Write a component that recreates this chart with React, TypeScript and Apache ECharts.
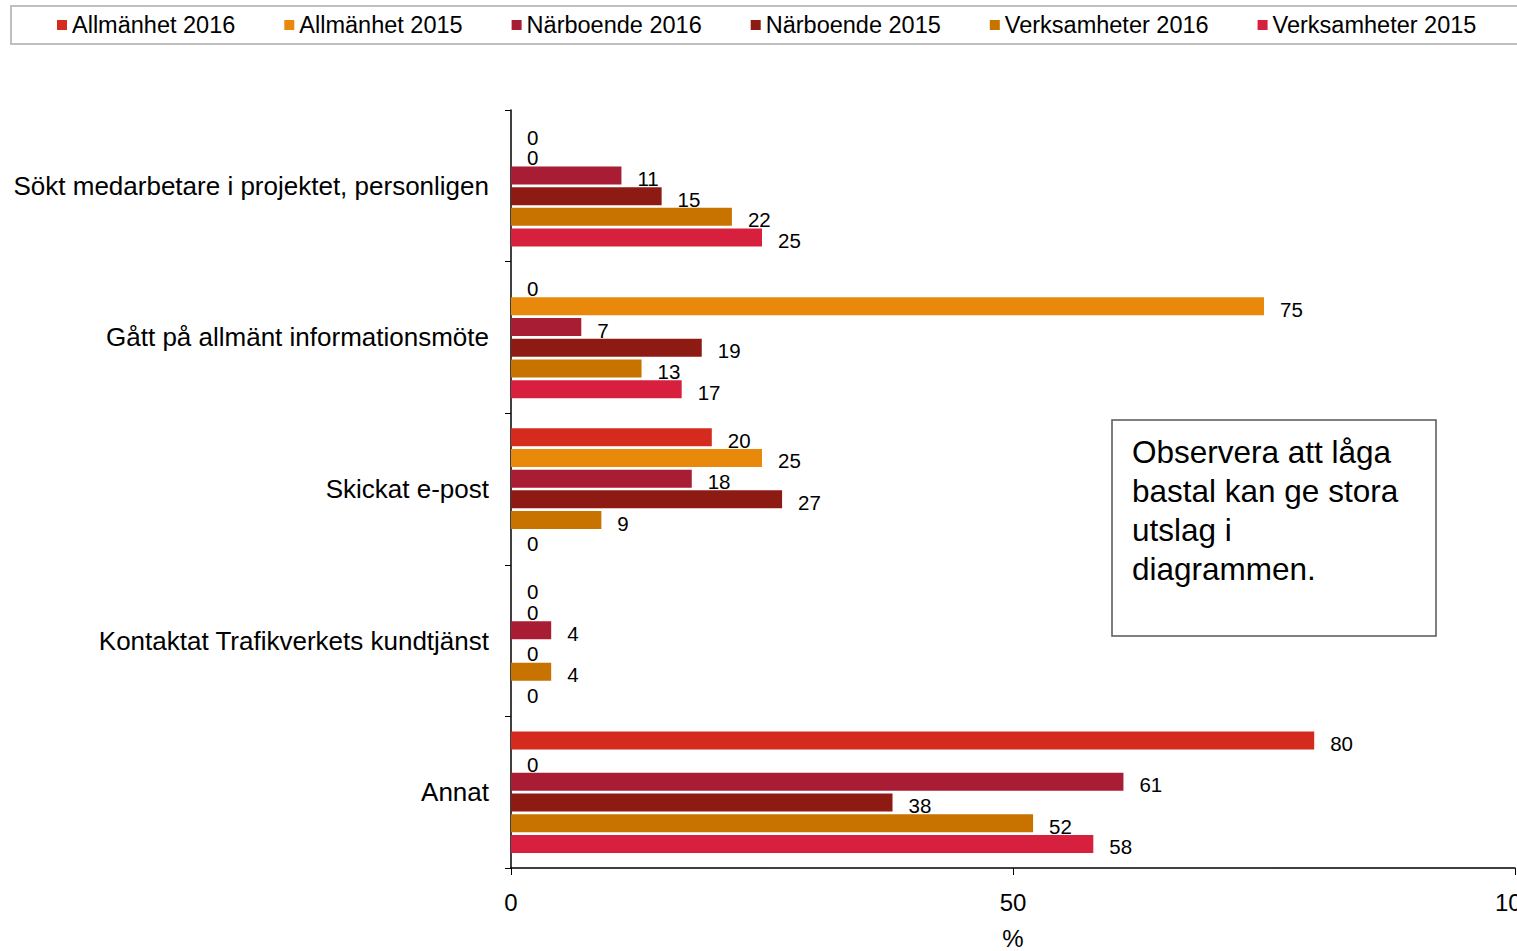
import React, { useEffect, useRef } from "react";
import * as echarts from "echarts";

const categories = [
  "Sökt medarbetare i projektet, personligen",
  "Gått på allmänt informationsmöte",
  "Skickat e-post",
  "Kontaktat Trafikverkets kundtjänst",
  "Annat",
];

const seriesNames = [
  "Allmänhet 2016",
  "Allmänhet 2015",
  "Närboende 2016",
  "Närboende 2015",
  "Verksamheter 2016",
  "Verksamheter 2015",
];

const allmanhet2016 = [0, 0, 20, 0, 80];
const allmanhet2015 = [0, 75, 25, 0, 0];
const narboende2016 = [11, 7, 18, 4, 61];
const narboende2015 = [15, 19, 27, 0, 38];
const verksamheter2016 = [22, 13, 9, 4, 52];
const verksamheter2015 = [25, 17, 0, 0, 58];

const seriesValues = [
  allmanhet2016,
  allmanhet2015,
  narboende2016,
  narboende2015,
  verksamheter2016,
  verksamheter2015,
];

const colors = ["#D52B1E", "#E8890C", "#A81C34", "#8E1A14", "#C87200", "#D6203E"];

const xTicks = [0, 50, 100];

const noteLines = ["Observera att låga", "bastal kan ge stora", "utslag i", "diagrammen."];

const FONT = "'Liberation Sans', Arial, sans-serif";

export default function App() {
  const ref = useRef<HTMLDivElement>(null);

  useEffect(() => {
    if (!ref.current) return;
    const chart = echarts.init(ref.current, null, { renderer: "svg", width: 1517, height: 951 });
    const option = {
      animation: false,
      color: colors,
      textStyle: { fontFamily: FONT },
      legend: {
        data: seriesNames,
        left: 57,
        top: 13,
        padding: 0,
        itemWidth: 10,
        itemHeight: 10,
        itemGap: 49,
        icon: "rect",
        textStyle: { fontSize: 23.5, color: "#000", fontFamily: FONT },
      },
      graphic: [
        {
          type: "rect",
          shape: { x: 11, y: 6, width: 1520, height: 38 },
          style: { fill: "none", stroke: "#BFBFBF", lineWidth: 2 },
          z: -1,
        },
        {
          type: "rect",
          shape: { x: 1112, y: 420, width: 324, height: 216 },
          style: { fill: "#fff", stroke: "#555", lineWidth: 1.5 },
          z: 10,
        },
        {
          type: "text",
          x: 1132,
          y: 432,
          z: 11,
          style: {
            text: noteLines.join("\n"),
            font: `31.5px ${FONT}`,
            fill: "#000",
            lineHeight: 39,
          },
        },
      ],
      grid: {
        left: 511,
        right: 2,
        top: 110,
        bottom: 83,
        containLabel: false,
        outerBoundsMode: "none",
      },
      xAxis: {
        type: "value",
        min: xTicks[0],
        max: xTicks[xTicks.length - 1],
        interval: 50,
        name: "%",
        nameLocation: "middle",
        nameGap: 58,
        nameTextStyle: { fontSize: 24, color: "#000", fontFamily: FONT },
        axisLine: { show: true, lineStyle: { color: "#000", width: 1.5 } },
        axisTick: { show: true, length: 7, lineStyle: { color: "#000" } },
        axisLabel: { fontSize: 24, color: "#000", margin: 22, fontFamily: FONT },
        splitLine: { show: false },
      },
      yAxis: {
        type: "category",
        data: categories,
        inverse: true,
        axisLine: { show: true, lineStyle: { color: "#000", width: 1.5 } },
        axisTick: { show: true, length: 6, alignWithLabel: false, lineStyle: { color: "#000" } },
        axisLabel: { fontSize: 26, color: "#000", margin: 22, fontFamily: FONT },
      },
      series: seriesNames.map((name, i) => ({
        name,
        type: "bar",
        data: seriesValues[i],
        barWidth: 18,
        barGap: "15%",
        itemStyle: { color: colors[i] },
        label: {
          show: true,
          position: "right",
          distance: 16,
          offset: [0, 3],
          fontSize: 20.5,
          lineHeight: 19,
          color: "#000",
          fontFamily: FONT,
        },
      })),
    };
    chart.setOption(option);
    return () => chart.dispose();
  }, []);

  return (
    <div
      ref={ref}
      style={{ position: "absolute", left: 0, top: 0, width: 1517, height: 951, background: "#fff" }}
    />
  );
}
